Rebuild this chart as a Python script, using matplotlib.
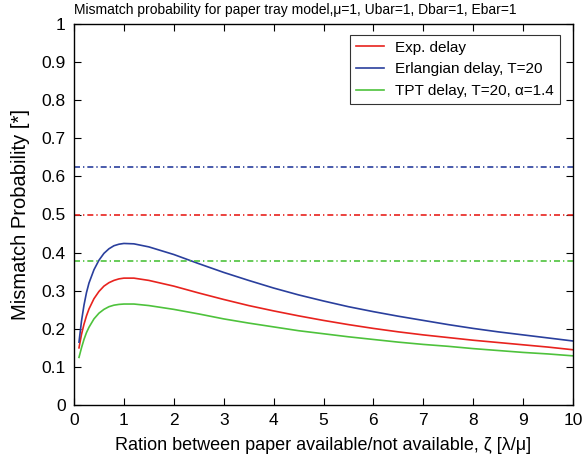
import matplotlib
matplotlib.use("Agg")
import matplotlib.pyplot as plt

plt.rcParams['font.family'] = ['Liberation Sans', 'DejaVu Sans']

zeta = [0.1, 0.15, 0.2, 0.25, 0.3, 0.4, 0.5, 0.6, 0.7, 0.8, 0.9, 1.0, 1.2, 1.5,
        2.0, 2.5, 3.0, 3.5, 4.0, 4.5, 5.0, 5.5, 6.0, 6.5, 7.0, 7.5, 8.0, 8.5, 9.0, 9.5, 10.0]
exp_delay = [0.150, 0.185, 0.212, 0.234, 0.252, 0.279, 0.298, 0.312, 0.321, 0.327, 0.331, 0.333, 0.333, 0.327,
             0.312, 0.294, 0.277, 0.261, 0.247, 0.234, 0.222, 0.211, 0.201, 0.192, 0.184, 0.177, 0.170, 0.164, 0.158, 0.152, 0.145]
erl_delay = [0.165, 0.220, 0.262, 0.295, 0.320, 0.355, 0.380, 0.398, 0.410, 0.418, 0.422, 0.424, 0.423, 0.415,
             0.395, 0.371, 0.348, 0.327, 0.307, 0.289, 0.273, 0.258, 0.245, 0.233, 0.222, 0.211, 0.201, 0.192, 0.184, 0.176, 0.168]
tpt_delay = [0.125, 0.150, 0.172, 0.190, 0.204, 0.226, 0.241, 0.251, 0.258, 0.262, 0.264, 0.265, 0.265, 0.261,
             0.251, 0.239, 0.226, 0.215, 0.205, 0.195, 0.187, 0.179, 0.172, 0.165, 0.159, 0.154, 0.148, 0.143, 0.138, 0.134, 0.129]

limit_values = [0.5, 0.625, 0.378]
colors = ['#e8231e', '#2a3f9d', '#4ec23c']
labels = ['Exp. delay', 'Erlangian delay, T=20', 'TPT delay, T=20, \u03b1=1.4']

fig = plt.figure(figsize=(5.87, 4.62), dpi=100)
ax = fig.add_axes([74 / 587, 1 - 405 / 462, 499 / 587, 381 / 462])

for ys, c, l in zip([exp_delay, erl_delay, tpt_delay], colors, labels):
    ax.plot(zeta, ys, color=c, lw=1.2, label=l)
for v, c in zip(limit_values, colors):
    ax.axhline(v, color=c, lw=1.2, ls=(0, (3.6, 1.8, 0.8, 1.8)))

ax.set_xlim(0, 10)
ax.set_ylim(0, 1)
ax.set_xticks(range(0, 11))
ax.set_yticks([i / 10 for i in range(11)])
ax.set_yticklabels(['0'] + [f'{i/10:.1f}' for i in range(1, 10)] + ['1'])
ax.tick_params(direction='in', top=True, right=True, labelsize=12.5, length=5, width=0.8, pad=6)
for s in ax.spines.values():
    s.set_linewidth(1.0)

ax.set_xlabel('Ration between paper available/not available, \u03b6 [\u03bb/\u03bc]', fontsize=13, labelpad=6)
ax.set_ylabel('Mismatch Probability [*]', fontsize=14.5, labelpad=8)
fig.text(0.503, 1 - 10 / 462, 'Mismatch probability for paper tray model,\u03bc=1, Ubar=1, Dbar=1, Ebar=1',
         fontsize=10, ha='center', va='center')

leg = ax.legend(loc='upper right', fontsize=11, frameon=True, fancybox=False, edgecolor='black',
                handlelength=1.85, handletextpad=0.75, borderpad=0.38, labelspacing=0.5,
                borderaxespad=0, bbox_to_anchor=(1 - 13 / 499, 1 - 11 / 381))
leg.get_frame().set_linewidth(0.8)

fig.savefig('out.png', dpi=100)
